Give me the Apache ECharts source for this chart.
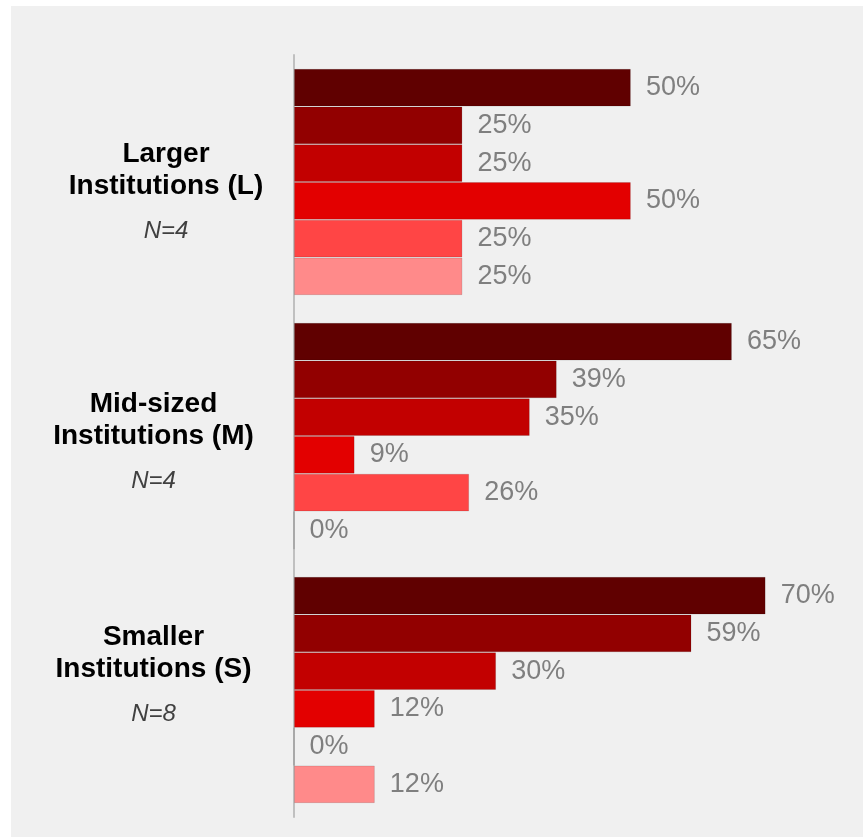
<!DOCTYPE html>
<html>
<head>
<meta charset="utf-8">
<script src="https://cdn.jsdelivr.net/npm/echarts@6/dist/echarts.min.js"></script>
<style>
  html, body { margin: 0; padding: 0; background: #ffffff; }
  #panel { position: absolute; left: 11px; top: 6px; width: 852px; height: 831px; background: #f0f0f0; }
  #chart { position: absolute; left: 0; top: 0; width: 863px; height: 837px; }
</style>
</head>
<body>
<div id="panel"></div>
<div id="chart"></div>
<script>
// Institution size groups (two-line bold title) and their sample sizes
const groupTitles = [
  ['Larger', 'Institutions (L)'],
  ['Mid-sized', 'Institutions (M)'],
  ['Smaller', 'Institutions (S)']
];
const sampleSizes = ['N=4', 'N=4', 'N=8'];

// Share (%) per group, one array per shade from darkest to lightest
const shade1 = [50, 65, 70];
const shade2 = [25, 39, 59];
const shade3 = [25, 35, 30];
const shade4 = [50, 9, 12];
const shade5 = [25, 26, 0];
const shade6 = [25, 0, 12];

const shadeValues = [shade1, shade2, shade3, shade4, shade5, shade6];
const shadeColors = ['#600000', '#920000', '#c20000', '#e30000', '#ff4545', '#ff8a8a'];

// Each group title block sits in its own text box; padding nudges it
// into place next to its bars: [top, right, bottom, left]
const labelPadding = [
  [34, 0, 0, 0],
  [27, 25, 0, 0],
  [0, 25, 15, 0]
];

const categories = groupTitles.map((t, i) => ({
  value: t.join('\n'),
  textStyle: {
    align: 'center',
    verticalAlign: 'middle',
    padding: labelPadding[i]
  }
}));

const chart = echarts.init(document.getElementById('chart'), null, { renderer: 'canvas' });

const series = shadeValues.map((vals, i) => ({
  type: 'bar',
  name: 'Shade ' + (i + 1),
  data: vals,
  barGap: '0%',
  barCategoryGap: '10.9%',
  itemStyle: {
    color: shadeColors[i],
    borderColor: 'rgba(0,0,0,0.12)',
    borderWidth: 1
  },
  label: {
    show: true,
    position: 'right',
    distance: 15,
    formatter: '{c}%',
    fontFamily: 'Liberation Sans, Arial, sans-serif',
    fontSize: 27,
    color: '#7f7f7f'
  },
  emphasis: { disabled: true },
  animation: false
}));

chart.setOption({
  animation: false,
  grid: {
    left: 294, right: 30, top: 55, bottom: 20,
    containLabel: false,
    outerBoundsMode: 'none'
  },
  xAxis: {
    type: 'value',
    min: 0,
    max: 80,
    show: false
  },
  yAxis: {
    type: 'category',
    data: categories,
    inverse: true,
    offset: 1,
    axisLine: { show: true, lineStyle: { color: '#c0c0c0', width: 2 } },
    axisTick: { show: false },
    splitLine: { show: false },
    axisLabel: {
      margin: 127,
      align: 'center',
      verticalAlign: 'middle',
      formatter: function (value, idx) {
        const lines = value.split('\n');
        return '{t|' + lines[0] + '}\n{t|' + lines[1] + '}\n{n|' + sampleSizes[idx] + '}';
      },
      rich: {
        t: {
          fontFamily: 'Liberation Sans, Arial, sans-serif',
          fontWeight: 'bold',
          fontSize: 28,
          lineHeight: 32,
          color: '#000000',
          align: 'center'
        },
        n: {
          fontFamily: 'Liberation Sans, Arial, sans-serif',
          fontStyle: 'italic',
          fontSize: 24,
          lineHeight: 58,
          color: '#404040',
          align: 'center'
        }
      }
    }
  },
  series: series
});
</script>
</body>
</html>
